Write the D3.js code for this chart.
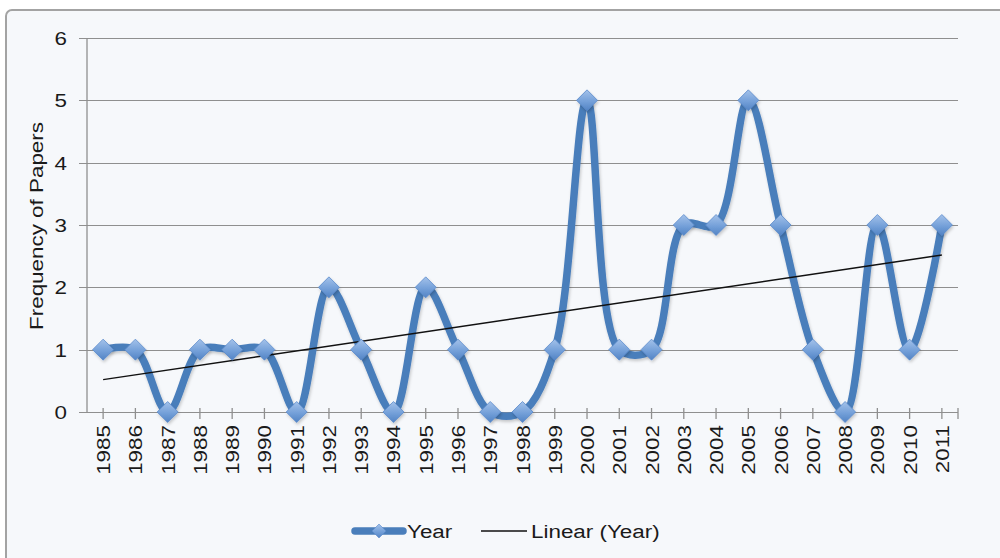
<!DOCTYPE html>
<html>
<head>
<meta charset="utf-8">
<script src="https://cdn.jsdelivr.net/npm/d3@7"></script>
<style>
  html, body { margin: 0; padding: 0; background: #ffffff; }
  svg { display: block; }
  text { font-family: "Liberation Sans", Arial, sans-serif; fill: #1a1a1a; }
</style>
</head>
<body>
<svg id="chart" width="1000" height="558"></svg>
<script>
// Number of papers published per year
const years = [1985, 1986, 1987, 1988, 1989, 1990, 1991, 1992, 1993, 1994, 1995, 1996, 1997, 1998,
               1999, 2000, 2001, 2002, 2003, 2004, 2005, 2006, 2007, 2008, 2009, 2010, 2011];
const counts = [1, 1, 0, 1, 1, 1, 0, 2, 1, 0, 2, 1, 0, 0,
                1, 5, 1, 1, 3, 3, 5, 3, 1, 0, 3, 1, 3];
const yTicks = [0, 1, 2, 3, 4, 5, 6];
const seriesName = "Year";
const trendName = "Linear (Year)";
const yTitle = "Frequency of Papers";

const svg = d3.select("#chart");
const W = 1000, H = 558;
const plot = { left: 87, right: 958, top: 38, bottom: 412 };
const fontSize = 19;
const stretch = 1.18; // wide lettering used throughout the chart

const defs = svg.append("defs");
const grad = defs.append("linearGradient").attr("id", "mk").attr("x1", 0).attr("y1", 0).attr("x2", 0).attr("y2", 1);
grad.append("stop").attr("offset", "0%").attr("stop-color", "#a4c2ea");
grad.append("stop").attr("offset", "55%").attr("stop-color", "#74a0d9");
grad.append("stop").attr("offset", "100%").attr("stop-color", "#5283c4");
const sh = defs.append("filter").attr("id", "shadow").attr("x", "-20%").attr("y", "-20%").attr("width", "140%").attr("height", "140%");
sh.append("feDropShadow").attr("dx", 1).attr("dy", 2).attr("stdDeviation", 1.5)
  .attr("flood-color", "#000").attr("flood-opacity", 0.2);

// chart frame
svg.append("rect").attr("x", 6).attr("y", 10).attr("width", W + 20).attr("height", H + 20)
  .attr("rx", 6).attr("fill", "#f6f8fb").attr("stroke", "#a3a3a3").attr("stroke-width", 2);

const x = d3.scaleBand().domain(years).range([plot.left, plot.right]).paddingInner(0).paddingOuter(0);
const cx = d => x(d) + x.bandwidth() / 2;
const y = d3.scaleLinear().domain([0, 6]).range([plot.bottom, plot.top]);

// horizontal gridlines with outside tick stubs
const yAxis = d3.axisLeft(y).tickValues(yTicks).tickSize(plot.right - plot.left + 8).tickFormat("");
const gy = svg.append("g").attr("transform", `translate(${plot.right},0)`).call(yAxis);
gy.select(".domain").remove();
gy.selectAll(".tick line").attr("stroke", "#8f8f8f").attr("stroke-width", 1.3).attr("shape-rendering", "crispEdges");

// vertical axis line
svg.append("line").attr("x1", plot.left).attr("x2", plot.left).attr("y1", plot.top).attr("y2", plot.bottom)
  .attr("stroke", "#8f8f8f").attr("stroke-width", 1.3);

// y tick labels
svg.append("g").selectAll("text").data(yTicks).join("text")
  .attr("transform", d => `translate(67,${y(d) + 7}) scale(${stretch},1)`)
  .attr("text-anchor", "end").attr("font-size", fontSize).text(d => d);

// x axis ticks crossing the baseline at each category centre and at the end
const xTickPos = years.map(cx).concat([plot.right]);
svg.append("g").selectAll("line").data(xTickPos).join("line")
  .attr("x1", d => d).attr("x2", d => d).attr("y1", plot.bottom - 4).attr("y2", plot.bottom + 7)
  .attr("stroke", "#8f8f8f").attr("stroke-width", 1.3);

// x tick labels (rotated)
svg.append("g").selectAll("text").data(years).join("text")
  .attr("transform", d => `translate(${cx(d) + 7},425) rotate(-90) scale(${stretch},1)`)
  .attr("text-anchor", "end").attr("font-size", fontSize).text(d => d);

// y axis title
svg.append("text")
  .attr("transform", `translate(43,226) rotate(-90) scale(${stretch},1)`)
  .attr("text-anchor", "middle").attr("font-size", fontSize).text(yTitle);

// least-squares trend line over the category index
const n = counts.length;
const idx = d3.range(n);
const mx = d3.mean(idx), my = d3.mean(counts);
const slope = d3.sum(idx, i => (i - mx) * (counts[i] - my)) / d3.sum(idx, i => (i - mx) ** 2);
const icpt = my - slope * mx;
const trend = i => icpt + slope * i;

// smoothed data series
const line = d3.line().x((d, i) => cx(years[i])).y(d => y(d)).curve(d3.curveCatmullRom.alpha(0.5));
svg.append("path").datum(counts).attr("d", line)
  .attr("fill", "none").attr("stroke", "#4a7ebb").attr("stroke-width", 7.5)
  .attr("stroke-linejoin", "round").attr("stroke-linecap", "round").attr("filter", "url(#shadow)");

svg.append("line")
  .attr("x1", cx(years[0])).attr("y1", y(trend(0)))
  .attr("x2", cx(years[n - 1])).attr("y2", y(trend(n - 1)))
  .attr("stroke", "#111").attr("stroke-width", 1.4);

// diamond markers
const diamond = (r) => `M0,${-r}L${r},0L0,${r}L${-r},0Z`;
svg.append("g").selectAll("path").data(counts).join("path")
  .attr("transform", (d, i) => `translate(${cx(years[i])},${y(d)})`)
  .attr("d", diamond(10.5))
  .attr("fill", "url(#mk)").attr("stroke", "#5b8acb").attr("stroke-width", 0.8)
  .attr("filter", "url(#shadow)");

// legend
const lg = svg.append("g");
const ly = 531;
lg.append("line").attr("x1", 355).attr("x2", 403).attr("y1", ly).attr("y2", ly)
  .attr("stroke", "#4a7ebb").attr("stroke-width", 7.5).attr("stroke-linecap", "round");
lg.append("path").attr("transform", `translate(379,${ly})`).attr("d", diamond(7))
  .attr("fill", "url(#mk)").attr("stroke", "#5b8acb").attr("stroke-width", 0.6);
lg.append("text").attr("transform", `translate(407,${ly + 7}) scale(${stretch},1)`)
  .attr("font-size", fontSize).text(seriesName);
lg.append("line").attr("x1", 481).attr("x2", 527).attr("y1", ly).attr("y2", ly)
  .attr("stroke", "#111").attr("stroke-width", 1.4);
lg.append("text").attr("transform", `translate(531,${ly + 7}) scale(${stretch},1)`)
  .attr("font-size", fontSize).text(trendName);
</script>
</body>
</html>
